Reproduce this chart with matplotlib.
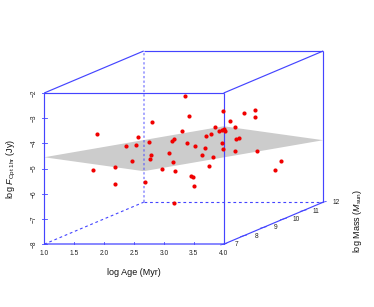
import matplotlib
matplotlib.use('Agg')
import matplotlib.pyplot as plt
import numpy as np

plt.rcParams['font.family'] = ['Liberation Sans', 'DejaVu Sans']
plt.rcParams['mathtext.fontset'] = 'custom'
plt.rcParams['mathtext.rm'] = 'Liberation Sans'
plt.rcParams['mathtext.it'] = 'Liberation Sans:italic'

AGE_TICKS = [1.0, 1.5, 2.0, 2.5, 3.0, 3.5, 4.0]
MASS_TICKS = [7, 8, 9, 10, 11, 12]
FLUX_TICKS = [-2, -3, -4, -5, -6, -7, -8]

# corners of the fitted plane: (age, mass, flux)
PLANE_AGE = [1.0, 4.0, 4.0, 1.0]
PLANE_MASS = [7, 7, 12, 12]
PLANE_FLUX = [-4.55, -3.32, -5.54, -6.77]

# points as they land on the page, read in front-face age / flux units
POINT_AGE = [3.36, 3.42, 2.80, 3.31, 1.89, 2.56, 2.75, 3.17, 3.14, 3.39,
             2.36, 2.54, 3.09, 2.79, 2.77, 3.16, 2.47, 2.18, 1.82, 2.97,
             3.18, 3.45, 3.48, 2.68, 2.18, 3.99, 4.34, 4.53, 4.53, 4.10,
             3.86, 4.19, 4.01, 3.98, 4.03, 3.92, 3.79, 3.70, 4.25, 4.20,
             3.98, 3.52, 3.69, 3.99, 4.19, 4.55, 3.63, 3.82, 4.96, 3.76,
             4.86, 3.51, 3.17]
POINT_FLUX = [-2.13, -2.91, -3.16, -3.52, -3.62, -3.75, -3.94, -3.83, -3.91, -3.99,
              -4.12, -4.08, -4.40, -4.48, -4.60, -4.73, -4.69, -4.92, -5.06, -5.00,
              -5.10, -5.31, -5.34, -5.53, -5.62, -2.72, -2.80, -2.66, -2.96, -3.12,
              -3.35, -3.35, -3.42, -3.46, -3.49, -3.52, -3.62, -3.71, -3.79, -3.83,
              -3.99, -4.10, -4.20, -4.23, -4.30, -4.32, -4.46, -4.55, -4.71, -4.88,
              -5.05, -5.69, -6.38]

BOX_COLOUR = '#4444FF'
MASS_MIN = 7.0
MASS_MAX = 12.0
DEPTH_AGE = 1.663
DEPTH_FLUX = 1.667
WIDTH_PX = 374
HEIGHT_PX = 307
AGE_PX = 59.83
FLUX_PX = 25.2


def project(age, mass, flux):
    depth = (np.asarray(mass, dtype=float) - MASS_MIN) / (MASS_MAX - MASS_MIN)
    return np.asarray(age) + depth * DEPTH_AGE, np.asarray(flux) + depth * DEPTH_FLUX


def edge(ax, start, end, **style):
    xs, ys = project(*zip(start, end))
    ax.plot(xs, ys, color=BOX_COLOUR, solid_capstyle='butt', **style)


def main() -> None:
    fig = plt.figure(figsize=(WIDTH_PX / 100, HEIGHT_PX / 100), dpi=100)
    ax = fig.add_axes([0, 0, 1, 1])
    # age 1 sits at x = 44 px and flux -8 at y = 244 px from the top
    ax.set_xlim(1 - 44.2 / AGE_PX, 1 + (WIDTH_PX - 44.2) / AGE_PX)
    ax.set_ylim(-8 - (HEIGHT_PX - 244.2) / FLUX_PX, -8 + 244.2 / FLUX_PX)
    ax.axis('off')

    plane_x, plane_y = project(PLANE_AGE, PLANE_MASS, PLANE_FLUX)
    ax.fill(plane_x, plane_y, color='#CCCCCC', linewidth=0, zorder=1)

    # hidden edges
    edge(ax, (1, 12, -8), (1, 12, -2), linewidth=1.1, linestyle=(0, (1.5, 1.5)), alpha=0.6, zorder=2)
    edge(ax, (1, 7, -8), (1, 12, -8), linewidth=0.8, linestyle=(0, (2.5, 2.5)), zorder=2)
    edge(ax, (1, 12, -8), (4, 12, -8), linewidth=0.8, linestyle=(0, (2.5, 2.5)), zorder=2)

    # visible edges
    solid = dict(linewidth=0.85, zorder=3)
    edge(ax, (1, 7, -8), (1, 7, -2), **solid)
    edge(ax, (4, 7, -8), (4, 7, -2), **solid)
    edge(ax, (1, 7, -2), (4, 7, -2), **solid)
    edge(ax, (1, 7, -2), (1, 12, -2), **solid)
    edge(ax, (4, 7, -2), (4, 12, -2), **solid)
    edge(ax, (1, 12, -2), (4, 12, -2), **solid)
    edge(ax, (4, 12, -8), (4, 12, -2), **solid)
    edge(ax, (4, 7, -8), (4, 12, -8), **solid)
    edge(ax, (1, 7, -8), (4, 7, -8), linewidth=1.2, alpha=0.75, zorder=3)

    for age in AGE_TICKS:
        ax.plot([age, age], [-8, -7.93], color=BOX_COLOUR, linewidth=0.6, zorder=3)
        ax.text(age, -8.36, f'{age:.1f}', fontsize=4.8, color='#222222', ha='center', va='center')
    for flux in FLUX_TICKS:
        ax.plot([0.97, 1.04], [flux, flux], color=BOX_COLOUR, linewidth=0.6, zorder=3)
        ax.text(0.84, flux, f'\u2212{abs(flux)}', fontsize=4.8, color='#222222', rotation=90,
                ha='center', va='center')
    for mass in MASS_TICKS:
        tick_x, tick_y = project(4.0, mass, -8.0)
        ax.plot([tick_x - 0.05, tick_x + 0.05], [tick_y - 0.03, tick_y + 0.03], color=BOX_COLOUR,
                linewidth=0.6, zorder=3)
        ax.text(tick_x + 0.21, tick_y - 0.02, str(mass), fontsize=4.8, color='#222222', ha='center', va='center')

    ax.scatter(POINT_AGE, POINT_FLUX, s=9, color='#F00000', linewidths=0, zorder=4)

    ax.text(2.5, -9.12, 'log Age (Myr)', fontsize=6.5, color='#111111', ha='center', va='center')
    ax.text(0.46, -5.0, r'log $\mathit{F}_{\mathrm{Opt\ 1hr}}$ (Jy)', fontsize=6.5, color='#111111',
            rotation=90, ha='center', va='center')
    ax.text(6.24, -7.1, r'log Mass ($\mathit{M}_{\mathrm{sun}}$)', fontsize=6.5, color='#111111',
            rotation=90, ha='center', va='center')

    fig.savefig('out.png', dpi=100)
    plt.close(fig)


if __name__ == '__main__':
    main()
